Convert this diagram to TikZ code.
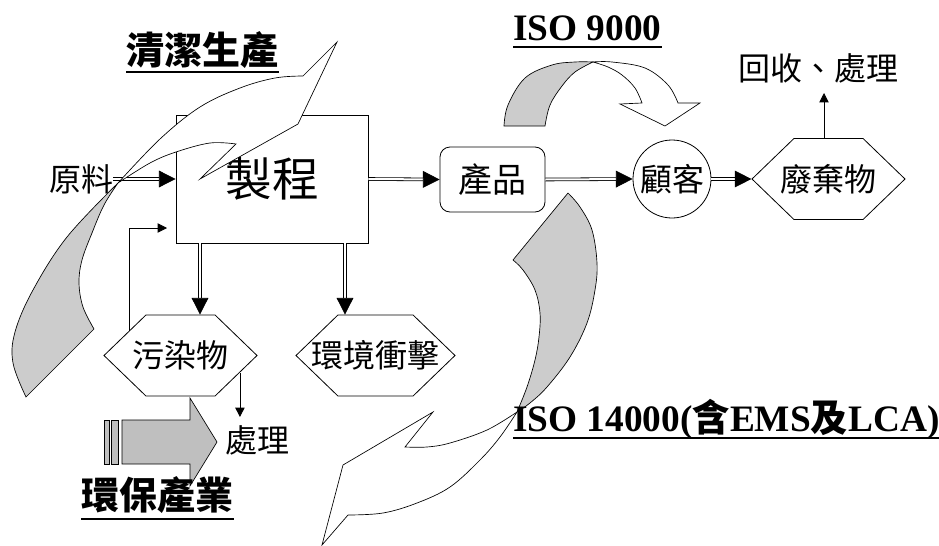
\documentclass[tikz,border=0pt]{standalone}
\usepackage{fontspec}
\newfontfamily\cjk{Noto Sans CJK TC}
\newfontfamily\tnr{Liberation Serif}
\usetikzlibrary{arrows.meta,shapes.symbols,calc}
\begin{document}
\begin{tikzpicture}[x=0.75pt,y=-0.75pt,
  lbl/.style={font=\cjk\fontsize{24}{24}\selectfont, inner sep=0pt},
  hexa/.style={draw, line width=0.6pt, fill=white, shape=signal, signal to=west and east,
    signal pointer angle=88, minimum height=60.75pt, inner sep=0pt,
    font=\cjk\fontsize{24}{24}\selectfont},
  dbl/.style={double, double distance=1.5pt, line width=0.6pt,
    -{Triangle[length=12.5pt,width=12.5pt]}},
  thinarr/.style={line width=0.6pt, -{Triangle[length=7pt,width=7pt]}},
  band/.style={draw, line width=0.5pt, fill=white},
  bandback/.style={draw, line width=0.5pt, fill=black!20},
  stripe/.style={draw, line width=0.5pt, fill=black!25},
  head/.style={font=\cjk\bfseries\fontsize{28.5}{28.5}\selectfont, inner sep=0pt},
  iso/.style={font=\tnr\bfseries\fontsize{28}{28}\selectfont, inner sep=0pt, anchor=base west},
  uline/.style={line width=1.5pt}
]
\useasboundingbox (0,0) rectangle (939,546);

% main nodes
\node[draw, line width=0.6pt, fill=white, minimum width=144pt, minimum height=96pt,
  font=\cjk\fontsize{35}{35}\selectfont] (proc) at (272,179) {製程};
\node[draw, line width=0.6pt, rounded corners=7.5pt, minimum width=78.75pt, minimum height=48.75pt,
  font=\cjk\fontsize{25.5}{25.5}\selectfont] (prod) at (492.5,179.5) {產品};
\node[draw, line width=0.6pt, circle, minimum size=58.5pt, inner sep=0pt,
  font=\cjk\fontsize{24}{24}\selectfont] (cust) at (672,179) {顧客};
\node[hexa, minimum width=114.75pt] (waste) at (828.5,179) {\makebox[0pt]{廢棄物}};
\node[hexa, minimum width=114.75pt] (poll) at (180.5,355.5) {\makebox[0pt]{污染物}};
\node[hexa, minimum width=119.25pt] (imp) at (375.5,355.5) {\makebox[0pt]{環境衝擊}};

\node[lbl] (raw) at (81,179) {原料};
\node[lbl] (treat) at (257,440) {處理};
\node[lbl] (recyc) at (818,68) {回收、處理};

\coordinate (d1) at (200,0);
\coordinate (d2) at (345,0);
\coordinate (fb) at (167,228);
\coordinate (ar) at (824,93);
\coordinate (tt) at (240,417);

% connectors
\draw[dbl] (raw.east) -- (proc.west);
\draw[dbl] (proc.east) -- (prod.west);
\draw[dbl] (prod.east) -- (cust.west);
\draw[dbl] (cust.east) -- (waste.west);
\draw[dbl] (proc.south -| d1) -- (poll.north -| d1);
\draw[dbl] (proc.south -| d2) -- (imp.north -| d2);
\draw[thinarr] (poll.154) |- (fb);
\draw[thinarr] (poll.-16) -- (poll.-16 |- tt);
\draw[thinarr] (waste.north -| ar) -- (ar);

% clean production curved arrow
\filldraw[bandback] plot[smooth, tension=0.6] coordinates {(26,397) (13,363) (15,332) (33,290) (67,237) (118,183)}
  -- plot[smooth, tension=0.6] coordinates {(118,183) (104,205) (92,233) (82,260) (79,283) (83,307) (94,329)} -- cycle;
\filldraw[band] plot[smooth, tension=0.6] coordinates {(118,183) (160,139) (200,107) (240,88) (275,78) (303,76)}
  -- (337,42) -- (298,124) -- (200,179) -- (236,144)
  -- plot[smooth, tension=0.6] coordinates {(236,144) (210,143) (176,152) (150,163) (118,183)} -- cycle;

% ISO 9000 curved arrow
\filldraw[bandback] plot[smooth, tension=0.6] coordinates {(504,126) (508,105) (525,78) (552,65) (575,62) (593,62)}
  -- plot[smooth, tension=0.6] coordinates {(593,62) (575,72) (562,86) (550,105) (545,126)} -- cycle;
\filldraw[band] plot[smooth, tension=0.6] coordinates {(593,62) (612,62) (645,68) (668,85) (678,103)}
  -- (700,103) -- (665,126) -- (620,104) -- (642,103)
  -- plot[smooth, tension=0.6] coordinates {(642,103) (635,88) (622,75) (608,67) (593,62)} -- cycle;

% ISO 14000 curved arrow
\filldraw[bandback] plot[smooth, tension=0.6] coordinates {(513,260) (523,270) (535,290) (540,313) (539,337) (535,360) (527,387) (517,412)}
  -- plot[smooth, tension=0.6] coordinates {(517,412) (530,403) (547,387) (570,357) (587,323) (595,290) (597,263) (592,230) (580,207) (568,193)} -- cycle;
\filldraw[band] plot[smooth, tension=0.6] coordinates {(517,412) (500,437) (480,460) (450,487) (417,503) (383,513) (348,515)}
  -- (322,545) -- (343,465) -- (433,412) -- (405,447)
  -- plot[smooth, tension=0.6] coordinates {(405,447) (427,447) (450,443) (487,430) (517,412)} -- cycle;

% striped arrow
\filldraw[stripe] (104,420) rectangle (109,464);
\filldraw[stripe] (111,420) rectangle (118,464);
\filldraw[stripe] (122,420) -- (190,420) -- (190,398) -- (217,442) -- (190,486) -- (190,464) -- (122,464) -- cycle;

% headings
\node[head] (cp) at (202.5,50) {清潔生產};
\draw[uline] ($(cp.south west)+(0,3)$) -- ($(cp.south east)+(0,3)$);
\node[head] (ep) at (157.5,495) {環保產業};
\draw[uline] ($(ep.south west)+(0,5)$) -- ($(ep.south east)+(0,5)$);
\node[iso] (iso9) at (513,40) {ISO 9000};
\draw[uline] ($(iso9.base west)+(0,7)$) -- ($(iso9.base east)+(0,7)$);
\node[iso] (iso14) at (513,431) {ISO 14000({\cjk\bfseries 含}EMS{\cjk\bfseries 及}LCA)};
\draw[uline] ($(iso14.base west)+(0,7)$) -- ($(iso14.base east)+(0,7)$);
\end{tikzpicture}
\end{document}
